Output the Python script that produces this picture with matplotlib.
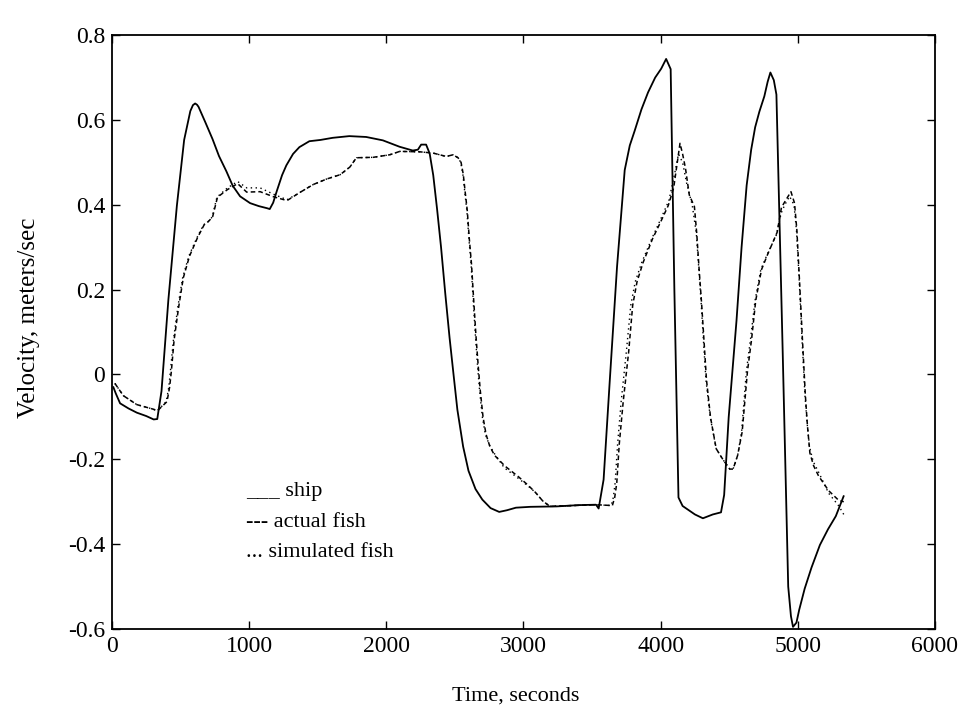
import matplotlib
matplotlib.use('Agg')
import matplotlib.pyplot as plt

plt.rcParams['font.family'] = ['Liberation Serif', 'DejaVu Serif']

# values (time in s, velocity in m/s)
ship_t = [10, 28, 59, 120, 181, 250, 304, 330, 361, 411, 473, 526, 571, 590,
          606, 620, 631, 680, 733, 780, 834, 880, 934, 1007, 1070, 1131,
          1150, 1175, 1201, 1240, 1271, 1320, 1366, 1439, 1520, 1609, 1730,
          1853, 1975, 2096, 2193, 2230, 2254, 2290, 2316, 2342, 2370, 2399,
          2430, 2461, 2490, 2518, 2560, 2599, 2650, 2700, 2760, 2823, 2880,
          2945, 3050, 3242, 3400, 3529, 3548, 3584, 3628, 3682, 3738, 3775,
          3810, 3860, 3908, 3960, 4004, 4040, 4073, 4100, 4130, 4160, 4196,
          4250, 4308, 4380, 4440, 4463, 4496, 4553, 4590, 4627, 4660, 4689,
          4720, 4756, 4780, 4800, 4825, 4844, 4890, 4930, 4950, 4965, 4990,
          5010, 5050, 5100, 5161, 5220, 5277, 5334]
ship_v = [-0.03, -0.045, -0.068, -0.08, -0.09, -0.098, -0.106, -0.105, -0.039,
          0.176, 0.398, 0.553, 0.621, 0.635, 0.639, 0.636, 0.631, 0.595,
          0.555, 0.515, 0.479, 0.445, 0.420, 0.404, 0.397, 0.392, 0.39, 0.405,
          0.432, 0.47, 0.493, 0.52, 0.536, 0.550, 0.553, 0.558, 0.562, 0.56,
          0.552, 0.537, 0.528, 0.53, 0.542, 0.542, 0.521, 0.47, 0.39, 0.30,
          0.19, 0.087, 0.0, -0.083, -0.17, -0.227, -0.27, -0.295, -0.315,
          -0.324, -0.32, -0.314, -0.312, -0.311, -0.308, -0.307, -0.316,
          -0.248, -0.02, 0.254, 0.482, 0.54, 0.574, 0.625, 0.665, 0.70, 0.721,
          0.744, 0.72, 0.2, -0.29, -0.31, -0.318, -0.33, -0.339, -0.33,
          -0.325, -0.284, -0.101, 0.127, 0.30, 0.446, 0.53, 0.583, 0.62,
          0.656, 0.69, 0.712, 0.694, 0.66, 0.05, -0.50, -0.57, -0.595, -0.585,
          -0.555, -0.505, -0.455, -0.402, -0.365, -0.334, -0.287]

fish_t = [21, 83, 181, 303, 330, 401, 420, 432, 453, 486, 520, 565, 624, 672,
          700, 733, 769, 842, 916, 982, 1080, 1178, 1276, 1374, 1468, 1566,
          1663, 1734, 1782, 1904, 2025, 2098, 2244, 2341, 2438, 2486, 2523,
          2545, 2561, 2575, 2590, 2605, 2621, 2638, 2654, 2670, 2685, 2705,
          2727, 2755, 2790, 2865, 2963, 3030, 3087, 3140, 3193, 3360, 3528,
          3648, 3665, 3680, 3698, 3727, 3767, 3796, 3828, 3872, 3941, 4009,
          4055, 4095, 4141, 4160, 4181, 4209, 4246, 4263, 4280, 4298, 4316,
          4334, 4364, 4405, 4455, 4504, 4528, 4561, 4594, 4633, 4663, 4693,
          4735, 4781, 4849, 4881, 4916, 4950, 4976, 4993, 5012, 5033, 5055,
          5070, 5088, 5115, 5151, 5225, 5299, 5335]
fish_v = [-0.021, -0.05, -0.071, -0.082, -0.086, -0.064, -0.03, 0.005, 0.082,
          0.159, 0.228, 0.279, 0.323, 0.353, 0.36, 0.371, 0.418, 0.436, 0.45,
          0.430, 0.431, 0.419, 0.410, 0.430, 0.448, 0.461, 0.471, 0.489,
          0.511, 0.512, 0.518, 0.526, 0.525, 0.522, 0.514, 0.518, 0.511, 0.50,
          0.472, 0.43, 0.387, 0.32, 0.26, 0.17, 0.089, 0.02, -0.038, -0.10,
          -0.141, -0.17, -0.191, -0.216, -0.241, -0.26, -0.278, -0.298,
          -0.311, -0.309, -0.307, -0.309, -0.29, -0.256, -0.165, -0.064,
          0.054, 0.163, 0.219, 0.264, 0.32, 0.366, 0.398, 0.44, 0.545, 0.52,
          0.486, 0.423, 0.396, 0.333, 0.25, 0.17, 0.08, -0.012, -0.102,
          -0.175, -0.201, -0.223, -0.223, -0.191, -0.136, 0.008, 0.083, 0.174,
          0.247, 0.284, 0.335, 0.394, 0.413, 0.431, 0.404, 0.341, 0.223, 0.087,
          -0.049, -0.12, -0.185, -0.215, -0.239, -0.274, -0.297, -0.30]

sim_t = [21, 83, 181, 303, 330, 395, 414, 425, 448, 480, 515, 560, 620, 668,
         700, 730, 765, 842, 916, 982, 1080, 1178, 1276, 1374, 1468, 1566,
         1663, 1734, 1782, 1904, 2025, 2098, 2244, 2341, 2438, 2486, 2523,
         2543, 2558, 2572, 2587, 2602, 2618, 2634, 2650, 2665, 2680, 2700,
         2722, 2750, 2785, 2860, 2963, 3030, 3087, 3140, 3193, 3360, 3528,
         3640, 3655, 3668, 3686, 3712, 3750, 3782, 3815, 3862, 3935, 4000,
         4060, 4100, 4130, 4160, 4190, 4230, 4260, 4278, 4295, 4312, 4330,
         4362, 4405, 4455, 4504, 4528, 4561, 4590, 4625, 4655, 4688, 4730,
         4778, 4845, 4878, 4905, 4940, 4972, 4990, 5010, 5030, 5052, 5068,
         5085, 5112, 5151, 5225, 5299, 5335]
sim_v = [-0.021, -0.05, -0.071, -0.082, -0.086, -0.064, -0.03, 0.005, 0.082,
         0.159, 0.228, 0.279, 0.323, 0.353, 0.36, 0.371, 0.418, 0.44, 0.455,
         0.44, 0.44, 0.425, 0.412, 0.430, 0.448, 0.461, 0.471, 0.489, 0.511,
         0.512, 0.518, 0.526, 0.525, 0.522, 0.514, 0.518, 0.511, 0.50, 0.472,
         0.43, 0.387, 0.32, 0.26, 0.17, 0.089, 0.02, -0.038, -0.10, -0.141,
         -0.165, -0.185, -0.22, -0.245, -0.262, -0.278, -0.298, -0.311,
         -0.309, -0.307, -0.309, -0.29, -0.256, -0.165, -0.064, 0.054, 0.163,
         0.219, 0.264, 0.32, 0.366, 0.41, 0.47, 0.52, 0.50, 0.45, 0.40, 0.333,
         0.25, 0.17, 0.08, -0.012, -0.102, -0.175, -0.201, -0.223, -0.223,
         -0.191, -0.136, 0.008, 0.083, 0.174, 0.247, 0.284, 0.33, 0.38, 0.40,
         0.42, 0.40, 0.341, 0.223, 0.087, -0.049, -0.115, -0.17, -0.205,
         -0.23, -0.28, -0.31, -0.33]

x_ticks = [0, 1000, 2000, 3000, 4000, 5000, 6000]
y_ticks = [-0.6, -0.4, -0.2, 0, 0.2, 0.4, 0.6, 0.8]
y_tick_labels = ['-0.6', '-0.4', '-0.2', '0', '0.2', '0.4', '0.6', '0.8']

fig = plt.figure(figsize=(9.63, 7.12), dpi=100)
ax = fig.add_axes([0.1163, 0.1166, 0.8546, 0.834])

ax.plot(sim_t, sim_v, color='black', lw=1.0, linestyle=(0, (1, 2.5)))
ax.plot(fish_t, fish_v, color='black', lw=1.1, linestyle=(0, (3, 2)))
ax.plot(ship_t, ship_v, color='black', lw=1.3)

ax.set_xlim(0, 6000)
ax.set_ylim(-0.6, 0.8)
ax.set_xticks(x_ticks)
ax.set_yticks(y_ticks)
ax.set_yticklabels(y_tick_labels)
ax.tick_params(direction='in', top=True, right=True, length=6,
               width=1, labelsize=17, pad=5)
for s in ax.spines.values():
    s.set_linewidth(1.3)

ax.set_xlabel('Time, seconds', fontsize=16)
ax.xaxis.set_label_coords(0.49, -0.097)
ax.set_ylabel('Velocity, meters/sec', fontsize=18)
ax.yaxis.set_label_coords(-0.088, 0.524)

# hand-written style legend
ax.text(0.163, 0.231, '___ ship', transform=ax.transAxes, va='center',
        fontsize=16)
ax.text(0.163, 0.180, '--- actual fish', transform=ax.transAxes,
        va='center', fontsize=16)
ax.text(0.163, 0.128, '... simulated fish', transform=ax.transAxes,
        va='center', fontsize=16)

fig.savefig('out.png', dpi=100)
